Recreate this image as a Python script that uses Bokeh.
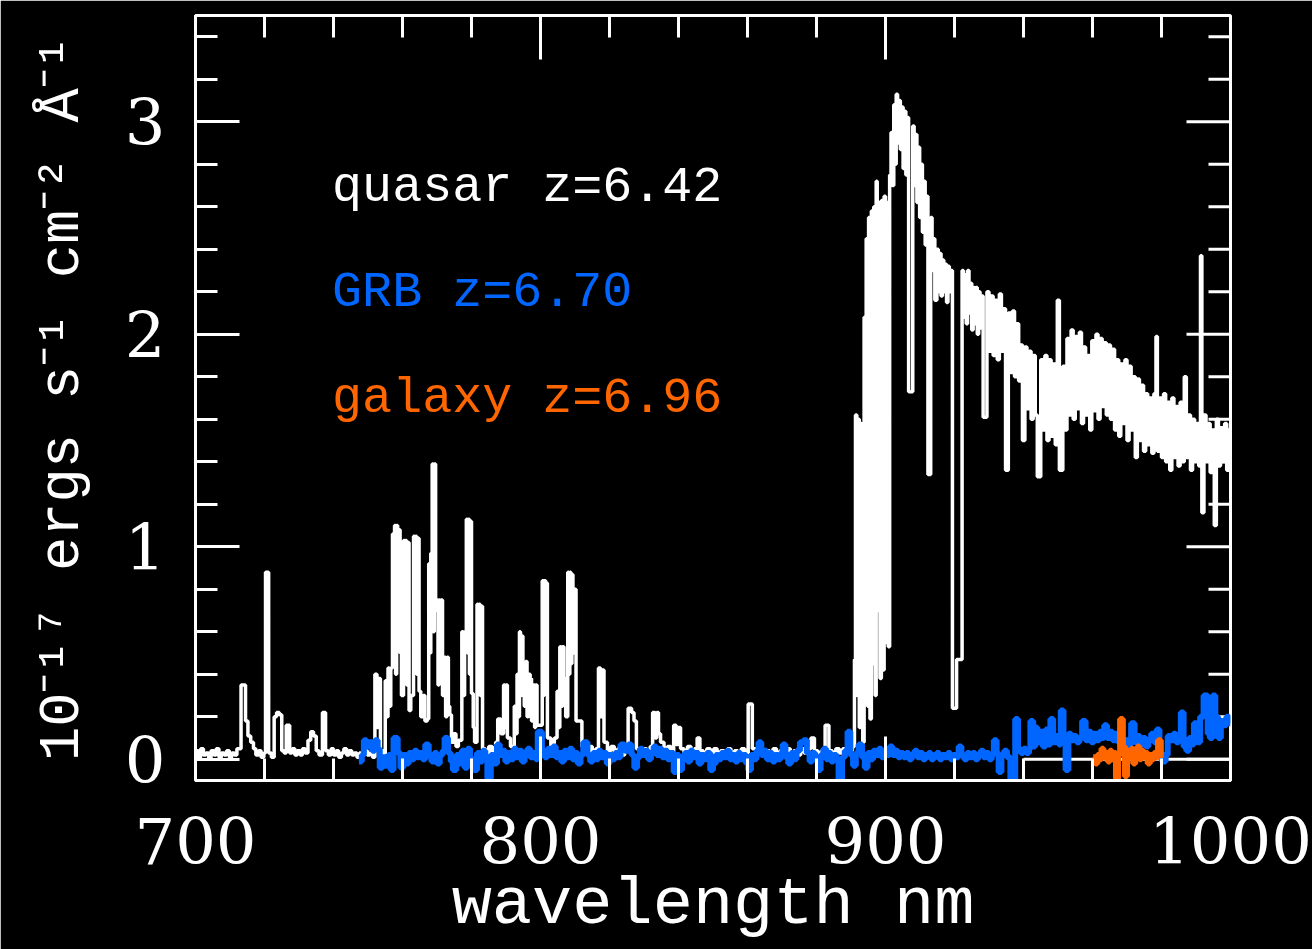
import math

from bokeh.plotting import figure
from bokeh.models import LinearAxis, SingleIntervalTicker, Label
from bokeh.embed import file_html
from bokeh.resources import INLINE

# --- quasar z=6.42 spectrum: bin start wavelength (nm) and flux (1e-17 erg/s/cm^2/A) ---
quasar_wl = [
    700.0, 700.8, 701.5, 702.3, 703.0, 703.8, 704.5, 705.3, 706.0, 706.8,
    707.5, 708.3, 709.0, 709.8, 710.5, 711.3, 712.0, 713.2, 714.5, 715.2,
    716.0, 716.8, 717.5, 718.3, 719.0, 719.8, 720.3, 721.2, 722.0, 722.8,
    723.5, 724.3, 725.0, 725.7, 726.3, 727.3, 728.0, 728.8, 729.5, 730.3,
    731.0, 731.8, 732.6, 733.4, 734.2, 735.0, 735.8, 736.8, 737.7, 738.5,
    739.3, 740.0, 740.8, 741.5, 742.3, 743.0, 743.8, 744.5, 745.3, 746.0,
    746.8, 747.5, 748.3, 749.0, 749.8, 750.5, 751.3, 752.0, 752.6, 753.0,
    753.6, 754.5, 755.0, 755.4, 755.8, 756.2, 756.6, 757.1, 757.4, 757.7,
    758.0, 758.3, 758.6, 758.9, 759.3, 759.7, 760.3, 760.6, 760.9, 761.2,
    761.5, 761.9, 762.4, 763.2, 763.5, 763.8, 764.1, 764.4, 764.8, 765.3,
    766.0, 766.5, 767.2, 767.6, 767.9, 768.2, 768.6, 768.9, 769.2, 769.6,
    769.9, 770.3, 770.6, 770.9, 771.2, 771.6, 772.0, 772.5, 772.9, 773.3,
    773.7, 774.2, 774.8, 775.5, 776.2, 777.2, 777.6, 778.0, 778.5, 778.8,
    779.1, 779.4, 779.7, 780.0, 780.5, 780.9, 781.6, 781.9, 782.2, 782.5,
    782.8, 783.2, 784.0, 785.0, 786.0, 787.0, 787.6, 788.5, 789.3, 789.7,
    790.0, 790.4, 791.3, 792.4, 792.8, 793.2, 793.5, 793.9, 794.2, 794.5,
    794.9, 795.3, 795.7, 796.1, 796.5, 797.0, 797.4, 797.9, 798.3, 798.6,
    799.0, 800.5, 800.8, 801.1, 801.5, 801.8, 802.0, 803.0, 804.0, 804.8,
    805.2, 805.6, 806.0, 806.4, 806.8, 807.3, 807.9, 808.2, 808.5, 808.8,
    809.1, 809.4, 809.7, 810.3, 812.0, 813.0, 814.0, 815.0, 816.0, 816.8,
    817.4, 817.8, 818.4, 819.4, 820.4, 821.4, 822.4, 823.4, 824.4, 825.4,
    826.4, 827.1, 827.8, 828.8, 829.8, 830.8, 831.8, 832.5, 833.2, 833.7,
    834.2, 834.8, 835.8, 836.8, 837.8, 838.6, 839.3, 839.9, 840.6, 841.6,
    842.6, 843.6, 844.6, 845.4, 846.2, 847.2, 848.2, 849.2, 850.2, 851.2,
    852.2, 853.2, 854.2, 855.2, 856.2, 857.2, 858.2, 859.2, 860.2, 861.4,
    862.4, 863.4, 864.4, 865.4, 866.4, 867.4, 868.4, 869.4, 870.4, 871.4,
    872.4, 873.4, 874.4, 875.4, 876.4, 877.4, 878.4, 879.4, 880.4, 881.4,
    882.5, 883.6, 884.6, 885.6, 886.6, 887.6, 888.6, 889.6, 890.4, 891.0,
    891.3, 891.7, 892.0, 892.4, 892.7, 893.1, 893.4, 893.8, 894.1, 894.4,
    894.8, 895.1, 895.5, 895.9, 896.3, 896.6, 897.0, 897.3, 897.6, 898.0,
    898.4, 898.8, 899.2, 899.6, 900.0, 900.4, 900.8, 901.2, 901.6, 902.0,
    902.4, 902.8, 903.1, 903.5, 903.9, 904.3, 904.7, 905.1, 905.5, 905.9,
    906.3, 906.7, 907.9, 908.3, 908.7, 909.1, 909.5, 909.9, 910.3, 910.7,
    911.1, 911.5, 911.9, 912.3, 913.1, 913.5, 913.9, 914.3, 914.9, 915.3,
    915.7, 916.1, 916.5, 916.9, 917.3, 917.7, 918.1, 918.5, 918.9, 919.4,
    920.6, 922.2, 922.6, 923.0, 923.4, 923.8, 924.2, 924.6, 925.0, 925.4,
    925.8, 926.2, 926.6, 927.0, 927.4, 927.8, 928.3, 929.4, 930.0, 930.6,
    931.2, 931.8, 932.4, 933.0, 933.6, 934.2, 934.8, 935.6, 936.2, 936.8,
    937.4, 938.0, 938.6, 939.2, 939.7, 940.4, 941.0, 941.6, 942.2, 942.8,
    943.4, 944.0, 945.0, 945.6, 946.2, 946.8, 947.4, 948.0, 948.6, 949.2,
    949.8, 950.4, 951.4, 952.0, 952.6, 953.2, 953.8, 954.4, 955.0, 955.6,
    956.2, 956.8, 957.4, 958.0, 958.6, 959.2, 959.8, 960.4, 961.0, 961.6,
    962.2, 962.8, 963.4, 964.0, 964.6, 965.2, 965.8, 966.4, 967.0, 967.6,
    968.2, 968.8, 969.4, 970.0, 970.6, 971.2, 971.8, 972.4, 973.0, 973.6,
    974.2, 974.8, 975.4, 976.0, 976.6, 977.2, 977.8, 978.4, 978.8, 979.4,
    980.0, 980.6, 981.2, 981.8, 982.4, 983.0, 983.6, 984.2, 984.8, 985.4,
    986.0, 986.6, 987.2, 987.8, 988.4, 989.0, 989.6, 990.2, 990.8, 991.3,
    991.7, 992.3, 992.9, 993.5, 994.1, 994.7, 995.3, 995.9, 996.5, 997.1,
    997.7, 998.3, 998.9, 999.5, 1000.0,
]
quasar_flux = [
    0.04, 0.01, 0.05, 0.02, 0.03, 0.00, 0.04, 0.02, 0.05, 0.01,
    0.03, 0.02, 0.04, 0.01, 0.03, 0.02, 0.05, 0.35, 0.18, 0.11,
    0.08, 0.05, 0.02, 0.04, 0.01, 0.03, 0.88, 0.03, 0.01, 0.20,
    0.22, 0.21, 0.04, 0.03, 0.16, 0.03, 0.05, 0.02, 0.04, 0.02,
    0.05, 0.03, 0.09, 0.13, 0.11, 0.04, 0.02, 0.22, 0.04, 0.02,
    0.05, 0.02, 0.04, 0.01, 0.03, 0.05, 0.02, 0.04, 0.02, 0.03,
    0.01, 0.03, 0.02, 0.04, 0.02, 0.03, 0.01, 0.40, 0.15, 0.38,
    0.04, 0.02, 0.37, 0.20, 0.43, 0.25, 0.43, 1.06, 0.60, 1.10,
    0.40, 1.10, 0.55, 1.08, 0.50, 0.30, 1.03, 0.45, 1.03, 0.35,
    1.02, 0.23, 0.30, 1.05, 0.50, 1.05, 0.40, 1.04, 0.32, 0.20,
    0.30, 0.18, 0.19, 0.92, 0.50, 0.97, 1.39, 0.60, 1.39, 0.70,
    0.75, 0.35, 0.75, 0.40, 0.75, 0.30, 0.48, 0.20, 0.48, 0.25,
    0.21, 0.08, 0.12, 0.06, 0.09, 0.60, 0.30, 0.60, 1.13, 0.50,
    1.13, 0.40, 1.12, 0.31, 0.15, 0.08, 0.73, 0.35, 0.73, 0.30,
    0.72, 0.05, 0.03, 0.06, 0.03, 0.08, 0.19, 0.12, 0.35, 0.15,
    0.35, 0.10, 0.06, 0.25, 0.12, 0.40, 0.20, 0.60, 0.30, 0.58,
    0.46, 0.25, 0.46, 0.20, 0.40, 0.38, 0.18, 0.35, 0.15, 0.35,
    0.16, 0.84, 0.30, 0.84, 0.40, 0.83, 0.10, 0.06, 0.10, 0.32,
    0.15, 0.53, 0.25, 0.53, 0.38, 0.20, 0.88, 0.40, 0.88, 0.45,
    0.87, 0.50, 0.80, 0.18, 0.06, 0.03, 0.06, 0.02, 0.05, 0.43,
    0.20, 0.42, 0.08, 0.04, 0.06, 0.03, 0.05, 0.02, 0.04, 0.24,
    0.22, 0.18, 0.05, 0.02, 0.05, 0.03, 0.06, 0.22, 0.10, 0.22,
    0.12, 0.08, 0.04, 0.06, 0.03, 0.16, 0.07, 0.15, 0.05, 0.03,
    0.06, 0.03, 0.05, 0.10, 0.04, 0.02, 0.05, 0.03, 0.05, 0.02,
    0.04, 0.02, 0.05, 0.03, 0.04, 0.02, 0.05, 0.03, 0.26, 0.05,
    0.03, 0.05, 0.02, 0.04, 0.02, 0.05, 0.03, 0.04, 0.02, 0.05,
    0.03, 0.04, 0.02, 0.05, 0.03, 0.05, 0.10, 0.04, 0.02, 0.04,
    0.16, 0.04, 0.02, 0.05, 0.03, 0.05, 0.03, 0.04, 0.06, 0.47,
    1.62, 0.30, 1.60, 0.15, 1.58, 1.02, 0.08, 2.08, 0.60, 2.45,
    0.25, 2.55, 0.19, 2.58, 0.45, 2.60, 0.30, 2.72, 0.70, 2.62,
    0.38, 2.63, 0.42, 2.65, 0.55, 2.62, 0.53, 2.75, 2.95, 2.70,
    3.08, 2.80, 3.13, 2.90, 3.10, 2.87, 3.07, 2.78, 3.05, 2.75,
    3.02, 1.73, 2.98, 2.70, 2.94, 2.62, 2.88, 2.55, 2.80, 2.48,
    2.72, 2.42, 2.65, 1.34, 2.55, 2.30, 2.45, 2.16, 2.40, 2.20,
    2.38, 2.18, 2.35, 2.20, 2.33, 2.15, 2.32, 2.20, 2.30, 0.24,
    0.47, 2.30, 2.08, 2.28, 2.05, 2.30, 2.10, 2.24, 2.02, 2.22,
    2.05, 2.22, 2.00, 2.20, 2.03, 2.18, 1.61, 2.20, 1.92, 2.18,
    1.90, 2.16, 1.88, 2.19, 1.92, 2.12, 1.36, 2.10, 1.82, 2.11,
    1.80, 2.05, 1.78, 1.95, 1.50, 1.94, 1.65, 1.92, 1.60, 1.90,
    1.62, 1.33, 1.88, 1.55, 1.90, 1.50, 1.88, 1.52, 1.86, 1.48,
    2.16, 1.36, 1.85, 1.55, 1.98, 1.62, 2.02, 1.60, 1.99, 1.65,
    2.01, 1.58, 1.94, 1.62, 1.90, 1.55, 1.97, 1.64, 2.00, 1.60,
    1.98, 1.66, 1.96, 1.62, 1.95, 1.60, 1.93, 1.55, 1.88, 1.52,
    1.86, 1.58, 1.88, 1.50, 1.85, 1.55, 1.80, 1.42, 1.79, 1.50,
    1.76, 1.45, 1.72, 1.48, 1.70, 1.44, 1.72, 1.99, 1.45, 1.70,
    1.42, 1.72, 1.40, 1.68, 1.36, 1.70, 1.42, 1.66, 1.38, 1.68,
    1.40, 1.80, 1.42, 1.62, 1.36, 1.60, 1.40, 1.58, 1.38, 2.37,
    1.16, 1.62, 1.40, 1.58, 1.35, 1.55, 1.10, 1.60, 1.38, 1.56,
    1.40, 1.58, 1.36, 1.55, 1.55,
]

# --- GRB z=6.70 afterglow spectrum ---
grb_wl = [
    747.4, 748.2, 748.8, 749.6, 750.4, 751.2, 752.0, 752.8, 753.4, 754.2,
    755.0, 755.8, 756.6, 757.4, 758.6, 759.4, 760.2, 761.0, 761.8, 762.6,
    763.4, 764.2, 765.0, 765.8, 766.6, 767.6, 768.4, 769.2, 770.0, 770.8,
    771.6, 772.2, 773.2, 774.0, 774.6, 775.6, 776.4, 777.2, 778.0, 778.8,
    779.6, 780.6, 781.6, 782.4, 783.2, 784.0, 784.6, 785.6, 786.4, 787.4,
    788.2, 789.0, 789.8, 790.6, 791.4, 792.2, 793.0, 793.8, 794.6, 795.4,
    796.2, 797.0, 797.8, 798.6, 799.2, 800.4, 801.2, 802.0, 802.8, 803.6,
    804.4, 805.2, 806.0, 806.8, 807.6, 808.4, 809.2, 810.0, 810.8, 811.6,
    812.4, 813.6, 814.4, 815.2, 816.0, 816.8, 817.6, 818.4, 819.2, 820.0,
    820.8, 821.6, 822.4, 823.2, 824.4, 825.4, 826.4, 827.2, 828.0, 828.8,
    829.6, 830.4, 831.2, 832.0, 832.8, 833.6, 834.4, 835.2, 836.0, 836.8,
    837.6, 838.6, 839.4, 840.2, 841.0, 841.8, 842.6, 843.4, 844.2, 845.0,
    845.8, 846.6, 847.4, 848.2, 849.2, 850.0, 850.8, 851.6, 852.4, 853.2,
    854.0, 854.8, 855.6, 856.4, 857.2, 858.0, 858.8, 859.6, 860.2, 861.0,
    861.8, 862.6, 863.2, 864.0, 864.8, 865.6, 866.4, 867.2, 868.0, 868.8,
    869.6, 870.2, 871.0, 871.8, 872.6, 873.4, 874.2, 875.2, 876.2, 877.2,
    878.0, 878.8, 879.6, 880.4, 881.2, 882.0, 882.8, 883.4, 884.2, 885.0,
    885.8, 886.4, 887.4, 888.2, 889.0, 889.8, 890.6, 891.4, 892.2, 893.2,
    894.0, 894.8, 895.6, 896.4, 897.2, 898.0, 898.8, 899.6, 900.4, 901.2,
    902.0, 902.8, 903.6, 904.4, 905.2, 906.0, 906.8, 907.6, 908.4, 909.2,
    910.0, 910.8, 911.6, 912.4, 913.2, 914.0, 914.8, 915.6, 916.4, 917.2,
    918.0, 918.8, 919.6, 920.4, 921.2, 922.0, 922.8, 923.6, 924.4, 925.2,
    926.0, 926.8, 927.6, 928.4, 929.2, 930.0, 930.8, 931.4, 932.2, 932.8,
    933.6, 934.4, 935.2, 936.2, 937.6, 938.4, 939.2, 940.0, 940.8, 941.6,
    942.0, 942.8, 943.4, 944.0, 944.8, 945.6, 946.4, 947.2, 947.8, 948.6,
    949.4, 950.2, 950.8, 951.6, 952.2, 953.0, 953.8, 954.6, 955.4, 956.2,
    957.0, 958.0, 958.8, 959.6, 960.4, 961.2, 962.0, 962.8, 963.4, 964.2,
    965.0, 965.8, 966.6, 967.4, 968.2, 969.0, 969.8, 970.6, 971.2, 972.2,
    973.0, 973.8, 974.6, 975.4, 976.2, 977.0, 977.8, 978.6, 979.4, 980.2,
    981.2, 981.8, 982.6, 983.4, 984.2, 985.0, 985.6, 986.4, 987.2, 988.0,
    988.8, 989.4, 990.4, 991.2, 992.2, 993.4, 994.0, 994.8, 995.6, 996.4,
    997.2, 998.0, 998.8, 999.6, 1000.0,
]
grb_flux = [
    -0.01, 0.02, 0.09, 0.06, 0.08, 0.04, 0.09, 0.05, -0.04, 0.01,
    -0.03, 0.02, -0.05, 0.10, 0.03, -0.04, 0.02, -0.02, 0.03, 0.00,
    0.04, 0.01, 0.03, 0.00, 0.07, 0.02, -0.01, 0.03, -0.02, 0.02,
    0.04, 0.10, 0.03, -0.01, -0.05, 0.02, -0.02, 0.04, -0.04, 0.05,
    0.00, -0.05, 0.03, -0.01, 0.04, 0.00, -0.09, 0.02, -0.02, 0.07,
    0.02, 0.04, -0.01, 0.03, 0.00, 0.05, 0.01, 0.04, -0.01, 0.02,
    0.05, 0.01, 0.03, 0.00, 0.13, 0.04, 0.01, 0.05, 0.02, 0.06,
    0.01, 0.03, -0.01, 0.04, 0.01, 0.05, 0.00, 0.03, -0.02, 0.02,
    0.08, 0.02, -0.01, 0.03, 0.00, 0.04, 0.01, 0.03, -0.02, 0.02,
    0.00, 0.03, 0.01, 0.07, 0.04, 0.07, 0.02, -0.04, 0.01, 0.05,
    0.02, 0.04, 0.00, 0.03, 0.06, 0.02, 0.05, 0.01, 0.04, 0.00,
    0.03, -0.06, 0.02, -0.05, 0.01, 0.03, -0.01, 0.04, 0.01, 0.03,
    -0.02, 0.02, 0.00, 0.03, -0.05, -0.02, 0.02, 0.00, 0.03, 0.01,
    0.04, 0.00, 0.02, -0.01, 0.03, 0.00, 0.02, -0.02, -0.05, 0.02,
    0.00, 0.04, 0.08, 0.02, 0.04, 0.00, 0.03, -0.01, 0.02, 0.00,
    0.03, 0.07, 0.01, -0.02, 0.03, 0.00, 0.04, 0.08, 0.09, 0.03,
    -0.01, 0.03, 0.00, -0.05, 0.02, 0.05, 0.00, 0.03, -0.01, 0.02,
    0.00, -0.10, 0.01, 0.04, 0.13, 0.02, -0.03, 0.03, 0.07, 0.01,
    -0.04, 0.03, 0.00, 0.04, 0.02, 0.05, 0.01, 0.04, 0.02, 0.06,
    0.02, 0.04, 0.01, 0.03, 0.01, 0.03, 0.00, 0.02, 0.04, 0.01,
    0.03, 0.00, 0.02, 0.03, 0.00, 0.02, 0.03, 0.00, 0.02, 0.01,
    0.03, 0.00, 0.02, 0.01, 0.06, 0.02, 0.00, 0.03, 0.01, 0.03,
    0.00, 0.02, 0.04, 0.01, 0.03, 0.00, 0.02, 0.09, 0.03, -0.06,
    0.02, 0.04, 0.01, -0.10, 0.19, 0.05, 0.03, 0.05, 0.03, 0.05,
    0.18, 0.06, 0.15, 0.08, 0.13, 0.06, 0.14, 0.07, 0.19, 0.08,
    0.11, 0.07, 0.23, 0.10, -0.05, 0.12, 0.09, 0.11, 0.08, 0.10,
    0.18, 0.09, 0.13, 0.08, 0.12, 0.09, 0.13, 0.10, 0.16, 0.10,
    0.13, 0.09, 0.12, 0.08, 0.10, 0.05, 0.09, 0.07, 0.17, 0.08,
    0.11, 0.07, 0.10, 0.06, 0.09, 0.12, 0.08, 0.14, 0.03, -0.01,
    0.02, 0.11, 0.09, 0.12, 0.08, 0.11, 0.22, 0.06, 0.04, 0.10,
    0.07, 0.17, 0.08, 0.20, 0.30, 0.12, 0.10, 0.30, 0.20, 0.10,
    0.18, 0.16, 0.20, 0.17, 0.17,
]

# --- galaxy z=6.96 spectrum ---
galaxy_wl = [
    960.2, 960.8, 961.4, 962.0, 962.6, 963.2, 963.8, 964.4, 965.0, 965.6,
    966.2, 966.8, 967.4, 968.0, 968.8, 969.4, 970.0, 970.6, 971.2, 971.8,
    972.4, 973.0, 973.6, 974.2, 974.8, 975.4, 976.0, 976.6, 977.2, 977.8,
    978.4, 979.0, 979.8, 980.6,
]
galaxy_flux = [
    0.01, -0.02, 0.02, 0.00, 0.05, 0.01, 0.03, -0.01, 0.04, 0.00,
    0.03, -0.09, 0.02, 0.19, 0.06, -0.08, 0.04, 0.01, 0.05, -0.02,
    0.03, 0.06, 0.00, 0.04, 0.01, 0.03, -0.02, 0.02, 0.00, 0.03,
    0.01, 0.09, 0.02, 0.02,
]

# zero-flux reference segment in the red end
zero_wl = [940.0, 1000.0]
zero_flux = [0.0, 0.0]

series_labels = ["quasar z=6.42", "GRB z=6.70", "galaxy z=6.96"]
series_colors = ["#FFFFFF", "#0066FF", "#FF6600"]

# tick positions mirrored on the top and right edges of the frame
x_major_ticks = [700, 800, 900, 1000]
x_minor_ticks = [720, 740, 760, 780, 820, 840, 860, 880, 920, 940, 960, 980]
y_major_ticks = [0, 1, 2, 3]
y_minor_ticks = [0.2, 0.4, 0.6, 0.8, 1.2, 1.4, 1.6, 1.8, 2.2, 2.4, 2.6, 2.8, 3.2, 3.4]

MONO = "Liberation Mono"
SERIF = "DejaVu Serif"
X_START, X_END = 700, 1000
Y_START, Y_END = -0.1, 3.5
MAJOR_LEN, MINOR_LEN = 44, 22

p = figure(
    frame_width=1035, frame_height=765,
    x_range=(X_START, X_END), y_range=(Y_START, Y_END),
    output_backend="svg", toolbar_location=None,
    background_fill_color="black", border_fill_color="black",
    min_border_left=195, min_border_right=82,
    min_border_top=15, min_border_bottom=169,
    x_axis_type=None, y_axis_type=None,
)
p.grid.visible = False
p.outline_line_color = "white"
p.outline_line_width = 3


def style_axis(ax):
    ax.axis_line_color = "white"
    ax.axis_line_width = 3
    ax.major_tick_line_color = "white"
    ax.major_tick_line_width = 3
    ax.minor_tick_line_color = "white"
    ax.minor_tick_line_width = 3
    ax.major_tick_in = MAJOR_LEN
    ax.major_tick_out = 0
    ax.minor_tick_in = MINOR_LEN
    ax.minor_tick_out = 0
    ax.major_label_text_color = "white"
    ax.major_label_text_font = SERIF
    ax.major_label_text_font_size = "64px"


xb = LinearAxis(ticker=SingleIntervalTicker(interval=100, num_minor_ticks=5))
style_axis(xb)
xb.major_label_standoff = 36
xb.axis_label = "wavelength nm"
xb.axis_label_text_font = MONO
xb.axis_label_text_font_size = "67px"
xb.axis_label_text_font_style = "normal"
xb.axis_label_text_color = "white"
xb.axis_label_standoff = 0
p.add_layout(xb, "below")

yl = LinearAxis(ticker=SingleIntervalTicker(interval=1, num_minor_ticks=5))
style_axis(yl)
yl.major_label_standoff = 30
yl.axis_label = "10\u207b\u00b9\u2077 ergs s\u207b\u00b9 cm\u207b\u00b2 \u00c5\u207b\u00b9"
yl.axis_label_text_font = MONO
yl.axis_label_text_font_size = "57px"
yl.axis_label_text_font_style = "normal"
yl.axis_label_text_color = "white"
yl.axis_label_standoff = 27
p.add_layout(yl, "left")

# inward ticks along the top and right edges
tick_style = dict(line_color="white", line_width=3, length_units="screen")
p.ray(x=x_major_ticks, y=Y_END, length=MAJOR_LEN, angle=-math.pi / 2, **tick_style)
p.ray(x=x_minor_ticks, y=Y_END, length=MINOR_LEN, angle=-math.pi / 2, **tick_style)
p.ray(x=X_END, y=y_major_ticks, length=MAJOR_LEN, angle=math.pi, **tick_style)
p.ray(x=X_END, y=y_minor_ticks, length=MINOR_LEN, angle=math.pi, **tick_style)

# spectra, drawn as histograms
p.step(quasar_wl, quasar_flux, mode="after", line_color=series_colors[0], line_width=3.5)
p.line(zero_wl, zero_flux, line_color="white", line_width=3)
p.step(grb_wl, grb_flux, mode="after", line_color=series_colors[1], line_width=6)
p.step(galaxy_wl, galaxy_flux, mode="after", line_color=series_colors[2], line_width=6)

# series captions
for text, color, ypos in zip(series_labels, series_colors, [2.69, 2.195, 1.70]):
    p.add_layout(Label(
        x=739.6, y=ypos, text=text, text_color=color,
        text_font=MONO, text_font_size="50px", text_baseline="alphabetic",
    ))

open("out.html", "w").write(file_html(p, INLINE))
